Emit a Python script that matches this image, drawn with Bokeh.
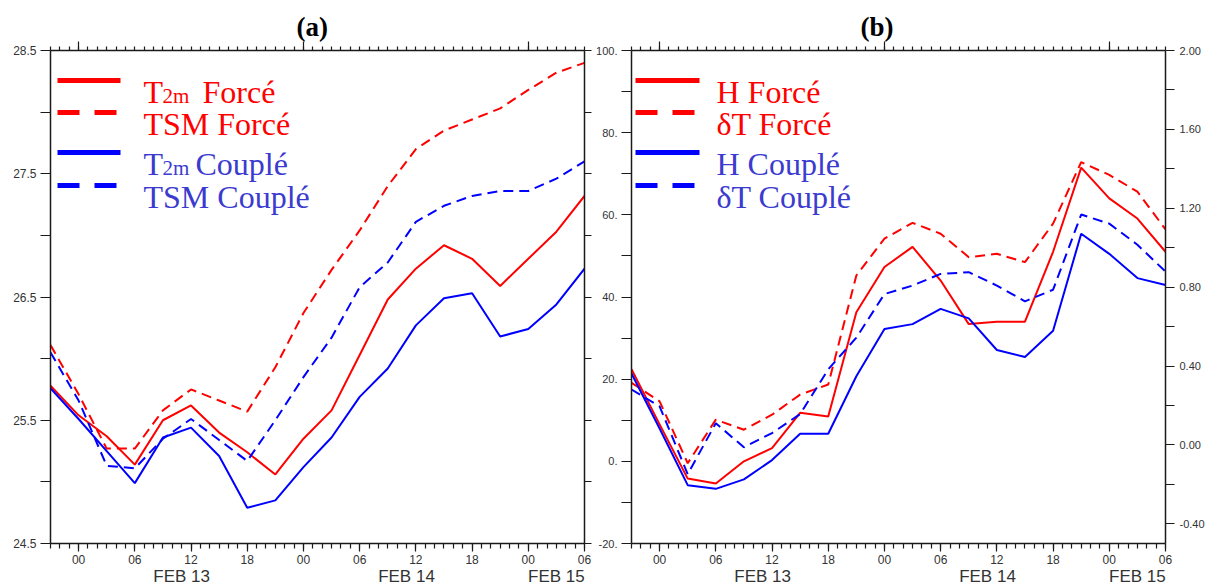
from bokeh.plotting import figure
from bokeh.models import (Range1d, LinearAxis, FixedTicker, PrintfTickFormatter,
                          Label, Arrow)
from bokeh.layouts import row
from bokeh.embed import file_html
from bokeh.resources import INLINE

# ---------------- data ----------------
# time axis: hours since 12 Feb 21:00 (3-hourly values)
hours = [0, 3, 6, 9, 12, 15, 18, 21, 24, 27, 30, 33, 36, 39, 42, 45, 48, 51, 54, 57]

# panel (a) : temperatures (deg C)
t2m_force = [25.78, 25.54, 25.37, 25.14, 25.50, 25.62, 25.40, 25.24, 25.06, 25.35,
             25.58, 26.03, 26.48, 26.73, 26.92, 26.81, 26.59, 26.81, 27.03, 27.32]
tsm_force = [26.11, 25.71, 25.27, 25.27, 25.58, 25.75, 25.66, 25.57, 25.93, 26.37,
             26.72, 27.04, 27.40, 27.70, 27.85, 27.94, 28.03, 28.18, 28.32, 28.40]
t2m_couple = [25.76, 25.51, 25.25, 24.99, 25.36, 25.44, 25.21, 24.79, 24.85, 25.12,
              25.36, 25.69, 25.92, 26.27, 26.49, 26.53, 26.18, 26.24, 26.44, 26.73]
tsm_couple = [26.05, 25.66, 25.13, 25.11, 25.35, 25.51, 25.34, 25.17, 25.50, 25.85,
              26.17, 26.58, 26.78, 27.11, 27.24, 27.32, 27.36, 27.36, 27.46, 27.60]

# panel (b) : H (left axis) and delta T (right axis)
h_force = [22.4, 9.0, -4.2, -5.4, 0.0, 3.2, 11.8, 10.9, 36.3, 47.3,
           52.2, 44.0, 33.4, 34.0, 34.0, 51.0, 71.5, 64.0, 59.1, 51.0]
h_couple = [21.4, 8.0, -5.8, -6.7, -4.4, 0.3, 6.7, 6.7, 20.7, 32.2,
            33.4, 37.1, 34.8, 27.1, 25.4, 31.8, 55.4, 50.5, 44.6, 42.9]
dt_force = [0.315, 0.221, -0.093, 0.128, 0.077, 0.153, 0.255, 0.306, 0.859, 1.046,
            1.126, 1.071, 0.952, 0.969, 0.927, 1.122, 1.434, 1.369, 1.284, 1.093]
dt_couple = [0.281, 0.195, -0.148, 0.110, -0.012, 0.060, 0.156, 0.383, 0.544, 0.765,
             0.808, 0.867, 0.876, 0.808, 0.728, 0.787, 1.168, 1.122, 1.015, 0.879]

# ticks / labels
hour_ticks = [3, 9, 15, 21, 27, 33, 39, 45, 51, 57]
hour_labels = ["00", "06", "12", "18", "00", "06", "12", "18", "00", "06"]
hour_minor = list(range(0, 58))
day_ticks = [3, 27, 51]
date_pos = [14, 38, 54]
date_labels = ["FEB 13", "FEB 14", "FEB 15"]

ya_ticks = [24.5, 25.5, 26.5, 27.5, 28.5]
ya_minor = [25, 26, 27, 28]
yb_ticks = [-20, 0, 20, 40, 60, 80, 100]
yb_minor = [-10, 10, 30, 50, 70, 90]
yr_ticks = [-0.4, 0.0, 0.4, 0.8, 1.2, 1.6, 2.0]
yr_minor = [-0.2, 0.2, 0.6, 1.0, 1.4, 1.8]

RED, BLUE, BLUE_TXT = "#ff0000", "#0000ff", "#3b3bcf"
legend_a = [("T", "2m", "Forcé", RED, RED, None),
            ("TSM Forcé", None, None, RED, RED, "22 15"),
            ("T", "2m", "Couplé", BLUE, BLUE_TXT, None),
            ("TSM Couplé", None, None, BLUE, BLUE_TXT, "22 15")]
legend_b = [("H Forcé", None, None, RED, RED, None),
            ("δT Forcé", None, None, RED, RED, "22 15"),
            ("H Couplé", None, None, BLUE, BLUE_TXT, None),
            ("δT Couplé", None, None, BLUE, BLUE_TXT, "22 15")]

AX = "#1a1a1a"
LBL = "#333333"
DASH = "10 6"


def style(ax, out, minor_out, show=True, size="12px", standoff=3):
    ax.axis_line_color = AX
    ax.axis_line_width = 1.5
    ax.major_tick_line_color = AX
    ax.minor_tick_line_color = AX
    ax.major_tick_line_width = 1.2
    ax.minor_tick_line_width = 1.2
    ax.major_tick_in = 0
    ax.minor_tick_in = 0
    ax.major_tick_out = out
    ax.minor_tick_out = minor_out
    ax.major_label_text_font = "Liberation Sans"
    if show:
        ax.major_label_text_color = LBL
        ax.major_label_standoff = standoff
        ax.major_label_text_font_size = size
    else:
        ax.major_label_text_color = None
        ax.major_label_standoff = 0
        ax.major_label_text_font_size = "1px"


def time_axes(p):
    top = LinearAxis(ticker=FixedTicker(ticks=day_ticks, minor_ticks=hour_minor))
    style(top, 9, 4, show=False)
    p.add_layout(top, "above")
    bot = LinearAxis(ticker=FixedTicker(ticks=hour_ticks, minor_ticks=hour_minor),
                     major_label_overrides=dict(zip(hour_ticks, hour_labels)))
    style(bot, 8, 5, size="12px", standoff=3)
    p.add_layout(bot, "below")
    dates = LinearAxis(ticker=FixedTicker(ticks=date_pos, minor_ticks=[]),
                       major_label_overrides=dict(zip(date_pos, date_labels)))
    dates.axis_line_color = None
    dates.major_tick_line_color = None
    dates.minor_tick_line_color = None
    dates.major_tick_out = 0
    dates.major_tick_in = 0
    dates.major_label_standoff = 0
    dates.major_label_text_font = "Liberation Sans"
    dates.major_label_text_font_size = "17px"
    dates.major_label_text_color = LBL
    p.add_layout(dates, "below")


def legend(p, entries, lx0, lx1, tx, ys):
    for (main, sub, rest, lc, tc, dash), y in zip(entries, ys):
        kw = dict(line_color=lc, line_width=5)
        if dash:
            kw["line_dash"] = dash
        p.add_layout(Arrow(end=None, x_start=lx0, y_start=y, x_end=lx1, y_end=y,
                           start_units="screen", end_units="screen", **kw))
        p.add_layout(Label(x=tx, y=y - 11, x_units="screen", y_units="screen",
                           text=main, text_font="Liberation Serif",
                           text_font_size="32px", text_color=tc,
                           text_baseline="alphabetic"))
        if sub:
            p.add_layout(Label(x=tx + 19, y=y - 15, x_units="screen", y_units="screen",
                               text=sub, text_font="Liberation Serif",
                               text_font_size="21px", text_color=tc,
                               text_baseline="alphabetic"))
            off = 59 if rest.startswith("F") else 52
            p.add_layout(Label(x=tx + off, y=y - 11, x_units="screen", y_units="screen",
                               text=rest, text_font="Liberation Serif",
                               text_font_size="32px", text_color=tc,
                               text_baseline="alphabetic"))


def set_title(p, txt, offset):
    p.title.text = txt
    p.title.align = "left"
    p.title.offset = offset
    p.title.text_font = "Liberation Serif"
    p.title.text_font_style = "bold"
    p.title.text_font_size = "27px"
    p.title.text_color = "black"
    p.title.standoff = 0


# ---------------- panel (a) ----------------
pa = figure(frame_width=534, frame_height=493, x_range=Range1d(0, 57),
            y_range=Range1d(24.5, 28.5), x_axis_type=None, y_axis_type=None,
            min_border_left=50, min_border_right=9, min_border_top=50,
            min_border_bottom=43, output_backend="svg", toolbar_location=None)
pa.outline_line_color = None
pa.background_fill_color = "white"
pa.border_fill_color = "white"
set_title(pa, "(a)", 246)

la = LinearAxis(ticker=FixedTicker(ticks=ya_ticks, minor_ticks=ya_minor),
                formatter=PrintfTickFormatter(format="%.1f"))
style(la, 10, 10, size="12px", standoff=4)
pa.add_layout(la, "left")
ra = LinearAxis(ticker=FixedTicker(ticks=ya_ticks + ya_minor))
style(ra, 7, 0, show=False)
pa.add_layout(ra, "right")
time_axes(pa)

pa.line(hours, t2m_force, line_color=RED, line_width=2)
pa.line(hours, tsm_force, line_color=RED, line_width=2, line_dash=DASH)
pa.line(hours, t2m_couple, line_color=BLUE, line_width=2)
pa.line(hours, tsm_couple, line_color=BLUE, line_width=2, line_dash=DASH)
legend(pa, legend_a, 7, 70, 93, [463, 431, 391, 358])

# ---------------- panel (b) ----------------
pb = figure(frame_width=534, frame_height=493, x_range=Range1d(0, 57),
            y_range=Range1d(-20, 100), x_axis_type=None, y_axis_type=None,
            min_border_left=36, min_border_right=40, min_border_top=50,
            min_border_bottom=43, output_backend="svg", toolbar_location=None)
pb.outline_line_color = None
pb.background_fill_color = "white"
pb.border_fill_color = "white"
pb.extra_y_ranges = {"dT": Range1d(-0.5, 2.0)}
set_title(pb, "(b)", 229)

lb = LinearAxis(ticker=FixedTicker(ticks=yb_ticks, minor_ticks=yb_minor),
                formatter=PrintfTickFormatter(format="%d."))
style(lb, 10, 10, size="11px", standoff=4)
pb.add_layout(lb, "left")
rb = LinearAxis(y_range_name="dT", ticker=FixedTicker(ticks=yr_ticks, minor_ticks=yr_minor),
                formatter=PrintfTickFormatter(format="%.2f"))
style(rb, 9, 9, size="11px", standoff=5)
pb.add_layout(rb, "right")
time_axes(pb)

pb.line(hours, h_force, line_color=RED, line_width=2)
pb.line(hours, dt_force, line_color=RED, line_width=2, line_dash=DASH,
        y_range_name="dT")
pb.line(hours, h_couple, line_color=BLUE, line_width=2)
pb.line(hours, dt_couple, line_color=BLUE, line_width=2, line_dash=DASH,
        y_range_name="dT")
legend(pb, legend_b, 4, 68, 85, [463, 431, 391, 358])

layout = row(pa, pb)
open("out.html", "w").write(file_html(layout, INLINE))
